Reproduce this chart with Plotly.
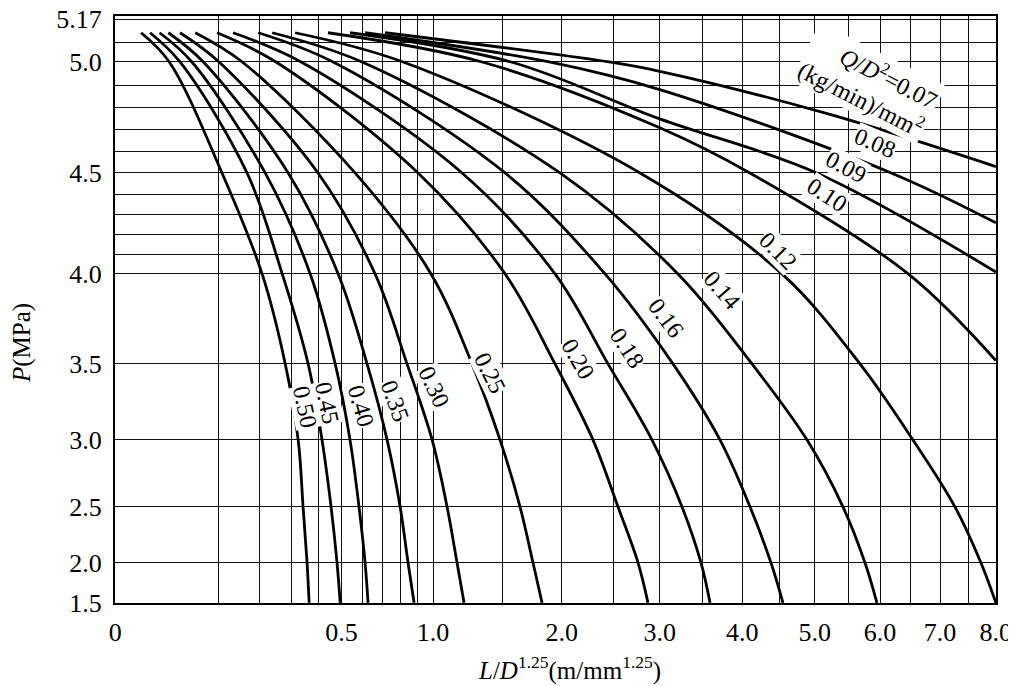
import numpy as np
import plotly.graph_objects as go

# ---------------- data ----------------
# common pressure levels (MPa) used for the curves 0.50 ... 0.12
p_levels = [5.13, 5.0, 4.5, 4.0, 3.5, 3.0, 2.5, 2.0, 1.5]

# L/D^1.25 values (m/mm^1.25) of each curve at those pressure levels
l_050 = [0.006, 0.027, 0.108, 0.207, 0.279, 0.324, 0.342, 0.357, 0.365]
l_045 = [0.011, 0.039, 0.166, 0.269, 0.361, 0.416, 0.454, 0.480, 0.494]
l_040 = [0.018, 0.055, 0.216, 0.369, 0.472, 0.539, 0.582, 0.612, 0.627]
l_035 = [0.026, 0.073, 0.289, 0.485, 0.622, 0.727, 0.800, 0.846, 0.882]
l_030 = [0.039, 0.102, 0.400, 0.663, 0.840, 0.994, 1.092, 1.160, 1.209]
l_025 = [0.060, 0.154, 0.563, 0.987, 1.266, 1.477, 1.638, 1.747, 1.825]
l_020 = [0.098, 0.249, 0.906, 1.517, 1.940, 2.297, 2.549, 2.761, 2.869]
l_018 = [0.132, 0.335, 1.195, 1.940, 2.447, 2.913, 3.255, 3.482, 3.592]
l_016 = [0.196, 0.463, 1.517, 2.417, 3.150, 3.716, 4.102, 4.383, 4.548]
l_014 = [0.237, 0.597, 1.985, 3.208, 4.128, 4.888, 5.421, 5.761, 5.950]
l_012 = [0.313, 0.817, 2.782, 4.535, 5.683, 6.538, 7.260, 7.726, 8.000]

# flatter curves that leave through the right edge
p_010 = [5.13, 5.0, 4.71, 4.5, 4.0, 3.52]
l_010 = [0.441, 1.34, 3.0, 4.10, 6.46, 8.0]
p_009 = [5.13, 5.0, 4.75, 4.5, 4.01]
l_009 = [0.539, 1.565, 3.0, 5.03, 8.0]
p_008 = [5.13, 5.0, 4.88, 4.5, 4.26]
l_008 = [0.612, 1.887, 3.0, 6.18, 8.0]
p_007 = [5.13, 5.0, 4.96, 4.77, 4.53]
l_007 = [0.716, 2.457, 3.0, 5.225, 8.0]

curve_names = ["0.50", "0.45", "0.40", "0.35", "0.30", "0.25", "0.20",
               "0.18", "0.16", "0.14", "0.12", "0.10", "0.09", "0.08", "0.07"]

# axis ticks and grid
x_tick_vals = [0, 0.5, 1.0, 2.0, 3.0, 4.0, 5.0, 6.0, 7.0, 8.0]
x_tick_text = ["0", "0.5", "1.0", "2.0", "3.0", "4.0", "5.0", "6.0", "7.0", "8.0"]
x_grid = [0.1, 0.2, 0.3, 0.4, 0.5, 0.6, 0.7, 0.8, 0.9, 1.0, 1.5, 2.0, 2.5, 3.0,
          3.5, 4.0, 4.5, 5.0, 5.5, 6.0, 6.5, 7.0, 7.5, 8.0]
y_tick_vals = [1.5, 2.0, 2.5, 3.0, 3.5, 4.0, 4.5, 5.0, 5.17]
y_tick_text = ["1.5", "2.0", "2.5", "3.0", "3.5", "4.0", "4.5", "5.0", "5.17"]
y_grid = [2.0, 2.5, 3.0, 3.5, 4.0, 4.1, 4.2, 4.3, 4.4, 4.5, 4.6, 4.7, 4.8,
          4.9, 5.0, 5.1]

# ---------------- nonlinear chart scales (layout, not data) ----------------
XP = 0.49                       # x axis: position ~ L^0.49
# y axis: pressure-squared scale, anchored where the printed chart puts its ticks
y_scale_P = [1.5, 2.0, 2.5, 3.0, 3.5, 4.0, 4.5, 5.0, 5.1, 5.17]
y_scale_pos = [0, 40, 96, 163, 239, 329, 430, 541, 560, 584]
Y_TOP = 587


def fx(L):
    return np.power(np.asarray(L, dtype=float), XP)


def fy(P):
    sq = (np.asarray(P, dtype=float) + 0.1) ** 2
    ref = (np.asarray(y_scale_P) + 0.1) ** 2
    return np.interp(sq, ref, y_scale_pos)


curves = [
    (l_050, p_levels), (l_045, p_levels), (l_040, p_levels), (l_035, p_levels),
    (l_030, p_levels), (l_025, p_levels), (l_020, p_levels), (l_018, p_levels),
    (l_016, p_levels), (l_014, p_levels), (l_012, p_levels),
    (l_010, p_010), (l_009, p_009), (l_008, p_008), (l_007, p_007),
]

fig = go.Figure()
for name, (ls, ps) in zip(curve_names, curves):
    fig.add_trace(go.Scatter(
        x=fx(ls), y=fy(ps), mode="lines", name=name,
        line=dict(color="black", width=2.8, shape="spline", smoothing=1.0),
        hoverinfo="skip", showlegend=False))

FONT = "Liberation Serif, Times New Roman, serif"

xt_all = sorted(set(x_tick_vals) | set(x_grid))
xt_text = [x_tick_text[x_tick_vals.index(v)] if v in x_tick_vals else "" for v in xt_all]
yt_all = sorted(set(y_tick_vals) | set(y_grid))
yt_text = [y_tick_text[y_tick_vals.index(v)] if v in y_tick_vals else "" for v in yt_all]

# the page body has an 8px margin: the figure starts at (8, 8) in the window
BODY = 8
L_PX, R_PX, T_PX, B_PX = 115, 996, 16, 603      # plot frame in window pixels
WIN_W, WIN_H = 1016, 686
W, H = WIN_W - BODY, WIN_H - BODY

fig.update_layout(
    width=W, height=H, autosize=False,
    margin=dict(l=L_PX - BODY, r=WIN_W - R_PX, t=T_PX - BODY, b=WIN_H - B_PX,
                autoexpand=False),
    paper_bgcolor="white", plot_bgcolor="white",
    font=dict(family=FONT, size=24, color="black"),
    xaxis=dict(range=[-0.0005, float(fx(8.0)) + 0.0005], tickvals=list(fx(xt_all)),
               ticktext=xt_text, ticklabeloverflow="allow", automargin=False,
               showgrid=True, gridcolor="#111", gridwidth=1.4, zeroline=False,
               showline=True, linecolor="black", linewidth=2.2, mirror=True,
               ticks="", ticklabelstandoff=5, tickfont=dict(size=26, family=FONT)),
    yaxis=dict(range=[-0.2, Y_TOP], tickvals=list(fy(yt_all)), ticktext=yt_text,
               ticklabeloverflow="allow", automargin=False,
               showgrid=True, gridcolor="#111", gridwidth=1.4, zeroline=False,
               showline=True, linecolor="black", linewidth=2.2, mirror=True,
               ticks="", ticklabelstandoff=6, tickfont=dict(size=26, family=FONT)),
)


def px2paper(px, py):
    return (px - L_PX) / (R_PX - L_PX), (B_PX - py) / (B_PX - T_PX)


# curve labels: (text, window-pixel centre, angle)
label_specs = [
    ("0.50", 305, 407, 78), ("0.45", 327, 403, 78), ("0.40", 361, 406, 74),
    ("0.35", 395, 401, 70), ("0.30", 434, 387, 65), ("0.25", 490, 373, 64),
    ("0.20", 578, 359, 60), ("0.18", 627, 348, 57), ("0.16", 666, 318, 53),
    ("0.14", 722, 290, 49), ("0.12", 778, 251, 45), ("0.10", 827, 195, 33),
    ("0.09", 846, 167, 28), ("0.08", 875, 143, 23),
]
annotations = []
for txt, cx, cy, ang in label_specs:
    xp, yp = px2paper(cx, cy)
    annotations.append(dict(
        x=xp, y=yp, xref="paper", yref="paper", text=txt, showarrow=False,
        textangle=ang, font=dict(size=24, family=FONT, color="black"),
        bgcolor="white", borderpad=0, xanchor="center", yanchor="middle"))

xp, yp = px2paper(868, 84)
annotations.append(dict(
    x=xp, y=yp, xref="paper", yref="paper",
    text="<i>Q</i>/<i>D</i><sup>2</sup>=0.07<br>(kg/min)/mm<sup>2</sup>",
    showarrow=False, textangle=27, align="right",
    font=dict(size=24, family=FONT, color="black"),
    bgcolor="white", borderpad=2, xanchor="center", yanchor="middle"))

xp, yp = px2paper(22, 343)
annotations.append(dict(
    x=xp, y=yp, xref="paper", yref="paper", text="<i>P</i>(MPa)",
    showarrow=False, textangle=-90, font=dict(size=25, family=FONT, color="black"),
    xanchor="center", yanchor="middle"))

xp, yp = px2paper(569, 668)
annotations.append(dict(
    x=xp, y=yp, xref="paper", yref="paper",
    text="<i>L</i>/<i>D</i><sup>1.25</sup>(m/mm<sup>1.25</sup>)",
    showarrow=False, font=dict(size=25, family=FONT, color="black"),
    xanchor="center", yanchor="middle"))

fig.update_layout(annotations=annotations)
fig.write_html("out.html")
